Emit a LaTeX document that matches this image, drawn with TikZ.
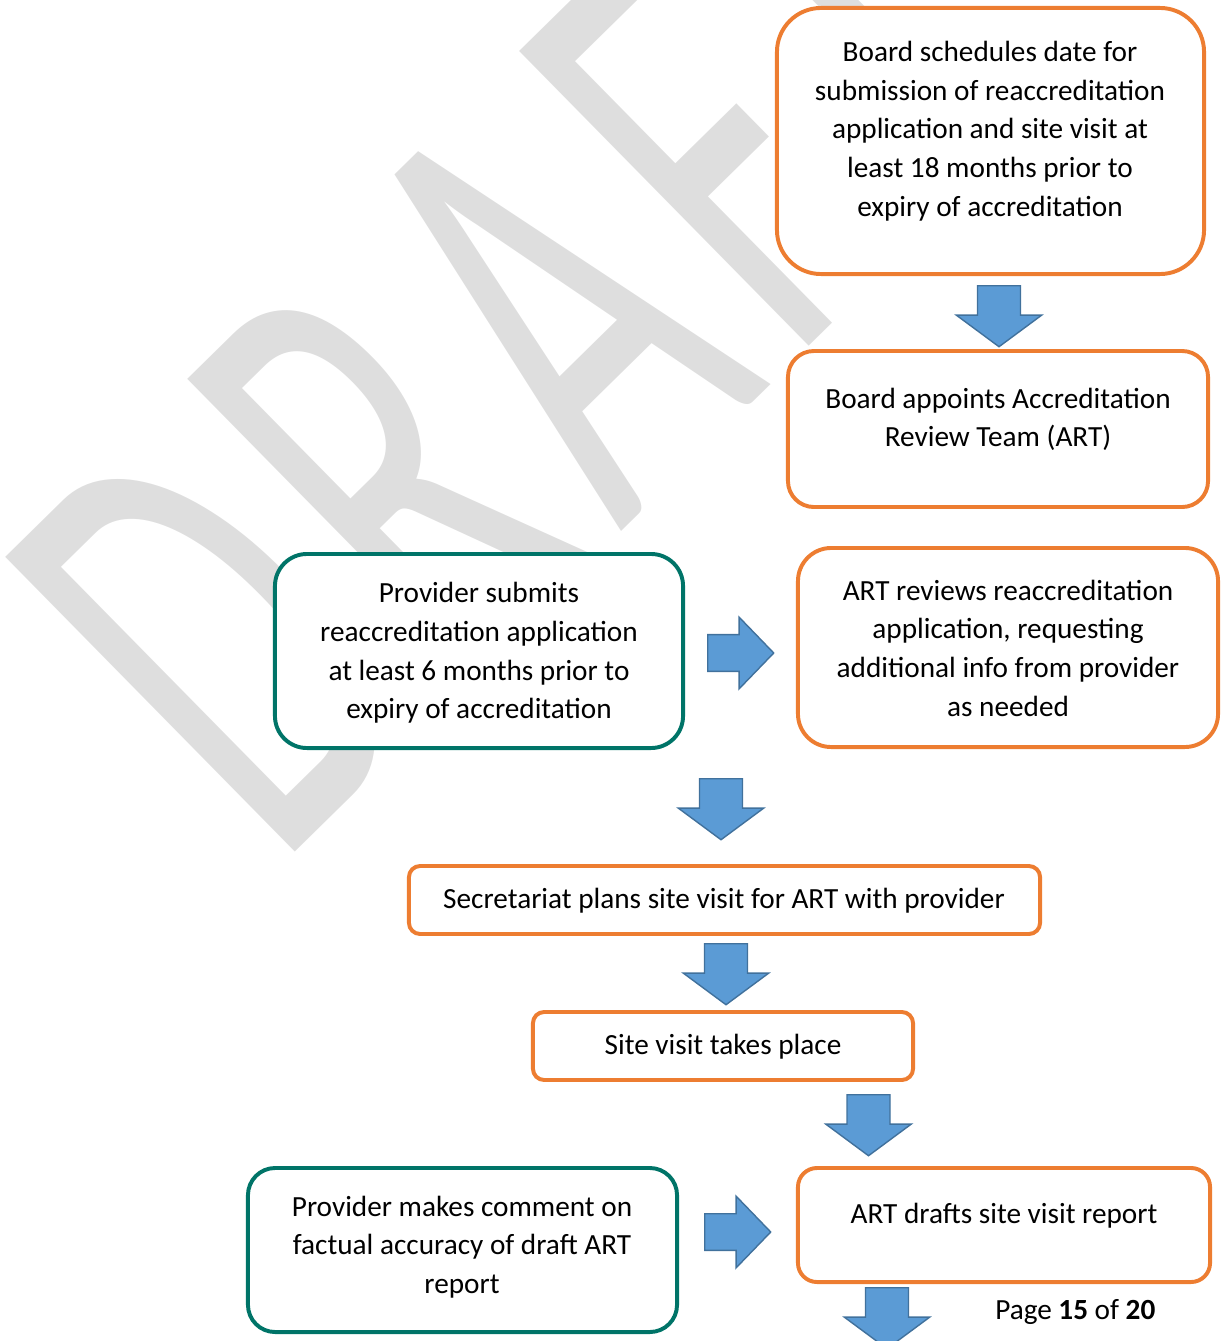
\documentclass[tikz,border=0pt]{standalone}
\usepackage{fontspec}
\setmainfont{Carlito}
\usepackage{graphicx}
\usetikzlibrary{shapes.arrows}

\definecolor{boxorange}{RGB}{237,125,49}
\definecolor{boxteal}{RGB}{0,116,104}
\definecolor{arrowblue}{RGB}{91,155,213}
\definecolor{arrowedge}{RGB}{65,113,156}
\definecolor{wmgray}{RGB}{222,222,222}

\begin{document}
\begin{tikzpicture}[x=0.025cm,y=-0.025cm,
  stepbox/.style={draw=boxorange,line width=2.8pt,fill=white,inner sep=0pt},
  tealbox/.style={stepbox,draw=boxteal},
  steptext/.style={align=center,inner sep=0pt,font=\fontsize{20.8}{27.5}\selectfont},
  blockarrow/.style={single arrow,draw=arrowedge,fill=arrowblue,line width=1pt,anchor=tail},
  downarrow/.style={blockarrow,shape border rotate=270,inner xsep=0.52cm,inner ysep=0pt,
    minimum height=1.525cm,minimum width=2.125cm,single arrow head extend=0.53cm,
    single arrow tip angle=107},
  rightarrow/.style={blockarrow,inner xsep=0pt,inner ysep=0.44cm,minimum height=1.65cm,
    minimum width=1.75cm,single arrow head extend=0.44cm,single arrow tip angle=92}]
\useasboundingbox (0,0) rectangle (1221,1341);
\clip (0,0) rectangle (1221,1341);

% watermark
\node[text=wmgray,rotate=44.5,anchor=base west,inner sep=0pt,
  font=\fontsize{458}{458}\selectfont] (draft) at (277,870)
  {\scalebox{0.57}[1]{D\kern1.23cm R\kern1.23cm A\kern1.23cm F\kern1.23cm T}};

% boxes
\node[stepbox,rounded corners=1.1cm,minimum width=10.675cm,minimum height=6.65cm] (b1) at (990.5,141) {};
\node[stepbox,rounded corners=0.65cm,minimum width=10.5cm,minimum height=3.9cm] (b2) at (998,429) {};
\node[tealbox,rounded corners=0.8cm,minimum width=10.2cm,minimum height=4.85cm] (b3) at (479,651) {};
\node[stepbox,rounded corners=0.83cm,minimum width=10.5cm,minimum height=4.975cm] (b4) at (1008,647.5) {};
\node[stepbox,rounded corners=0.28cm,minimum width=15.775cm,minimum height=1.7cm] (b5) at (724.5,900) {};
\node[stepbox,rounded corners=0.28cm,minimum width=9.5cm,minimum height=1.7cm] (b6) at (723,1046) {};
\node[stepbox,rounded corners=0.475cm,minimum width=10.3cm,minimum height=2.85cm] (b7) at (1004,1225) {};
\node[tealbox,rounded corners=0.68cm,minimum width=10.725cm,minimum height=4.1cm] (b8) at (462.5,1250) {};

% texts
\node[steptext] (t1) at (990,131) {Board schedules date for\\submission of reaccreditation\\application and site visit at\\least 18 months prior to\\expiry of accreditation};
\node[steptext] (t2) at (998,419.5) {Board appoints Accreditation\\Review Team (ART)};
\node[steptext] (t3) at (479,653) {Provider submits\\reaccreditation application\\at least 6 months prior to\\expiry of accreditation};
\node[steptext] (t4) at (1008,648) {ART reviews reaccreditation\\application, requesting\\additional info from provider\\as needed};
\node[steptext] (t5) at (724,901) {Secretariat plans site visit for ART with provider};
\node[steptext] (t6) at (723,1047) {Site visit takes place};
\node[steptext] (t7) at (1004,1216) {ART drafts site visit report};
\node[steptext] (t8) at (462,1247) {Provider makes comment on\\factual accuracy of draft ART\\report};

% block arrows
\node[downarrow] (a1) at (999,285) {};
\node[rightarrow] (a2) at (707,653) {};
\node[downarrow] (a3) at (721,778) {};
\node[downarrow] (a4) at (726,943) {};
\node[downarrow] (a5) at (868.5,1094) {};
\node[rightarrow] (a6) at (704,1232) {};
\node[downarrow] (a7) at (887,1287) {};

\node[steptext,anchor=west] (page) at (995,1312) {Page \textbf{15} of \textbf{20}};
\end{tikzpicture}
\end{document}
